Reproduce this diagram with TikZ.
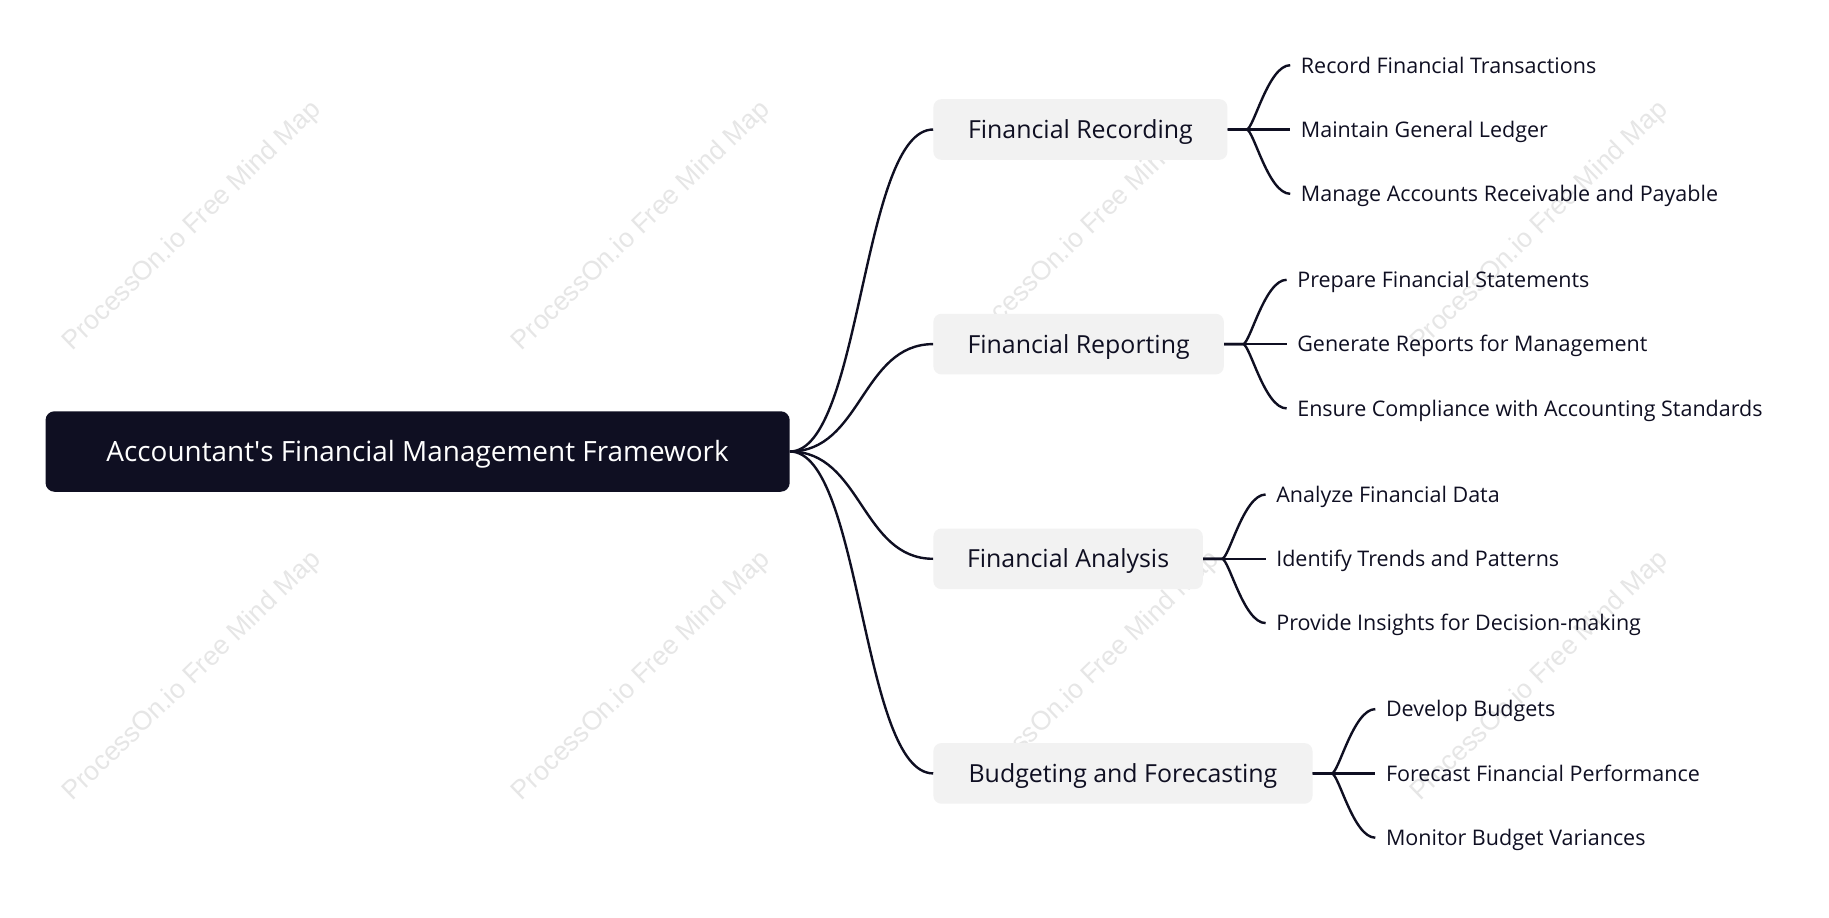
\documentclass[tikz,border=0pt]{standalone}
\usepackage{fontspec}
\setmainfont{Open Sans}
\newfontfamily\wmfont{Liberation Sans}
\definecolor{navy}{HTML}{0F0F22}
\definecolor{boxgray}{HTML}{F2F2F2}
\definecolor{wm}{HTML}{E6E6E6}
\begin{document}
\begin{tikzpicture}[x=1pt,y=-1pt,
  rootbox/.style={fill=navy, rounded corners=9pt, minimum height=80.5pt, minimum width=744.2pt, text=white, font=\fontsize{27.9}{33}\selectfont, inner sep=0pt, text height=20.6pt, text depth=0pt},
  catbox/.style={fill=boxgray, rounded corners=8pt, minimum height=60.6pt, text=navy, font=\fontsize{24.9}{29}\selectfont, inner sep=0pt, anchor=west, text height=18.2pt, text depth=0pt},
  leaf/.style={anchor=west, text=navy, font=\fontsize{21.5}{25}\selectfont, inner xsep=10.5pt, inner ysep=0pt, text height=15.6pt, text depth=0pt},
  link/.style={draw=navy, line width=2.4pt},
  wmark/.style={text=wm, rotate=44, font=\wmfont\fontsize{26.6}{32}\selectfont, inner sep=0pt}
]
\useasboundingbox (0,0) rectangle (1829,918);
\fill[white] (0,0) rectangle (1829,918);

% watermarks
\foreach \wx/\wy [count=\i] in {192.5/226.3, 641.6/226.3, 1090.7/226.3, 1539.8/226.3, 192.5/676.6, 641.6/676.6, 1090.7/676.6, 1539.8/676.6}
  \node[wmark] (wm\i) at (\wx,\wy) {ProcessOn.io Free Mind Map};

% root
\node[rootbox] (root) at (417.6,451.5) {Accountant\textquotesingle s Financial Management Framework};

% categories
\node[catbox, minimum width=294pt]   (c1) at (933.2,129.5) {Financial Recording};
\node[catbox, minimum width=290.4pt] (c2) at (933.2,344.1) {Financial Reporting};
\node[catbox, minimum width=269.4pt] (c3) at (933.2,558.8) {Financial Analysis};
\node[catbox, minimum width=379.1pt] (c4) at (933.2,773.4) {Budgeting and Forecasting};

% leaves
\node[leaf] (l11) at (1290.2,65.2)  {Record Financial Transactions};
\node[leaf] (l12) at (1290.2,129.5) {Maintain General Ledger};
\node[leaf] (l13) at (1290.2,193.8) {Manage Accounts Receivable and Payable};

\node[leaf] (l21) at (1286.6,279.8) {Prepare Financial Statements};
\node[leaf] (l22) at (1286.6,344.1) {Generate Reports for Management};
\node[leaf] (l23) at (1286.6,408.4) {Ensure Compliance with Accounting Standards};

\node[leaf] (l31) at (1265.6,494.5) {Analyze Financial Data};
\node[leaf] (l32) at (1265.6,558.8) {Identify Trends and Patterns};
\node[leaf] (l33) at (1265.6,623.1) {Provide Insights for Decision-making};

\node[leaf] (l41) at (1375.3,709.1) {Develop Budgets};
\node[leaf] (l42) at (1375.3,773.4) {Forecast Financial Performance};
\node[leaf] (l43) at (1375.3,837.7) {Monitor Budget Variances};

% root links
\foreach \c in {c1,c2,c3,c4}
  \draw[link] (root.east) .. controls +(71.7,0) and +(-71.7,0) .. (\c.west);

% leaf links
\foreach \c in {1,2,3,4}{
  \draw[link] (c\c.east) -- (l\c2.west);
  \draw[link] (c\c.east) -- ++(19,0) .. controls +(7,0) and +(-22,0) .. (l\c1.west);
  \draw[link] (c\c.east) -- ++(19,0) .. controls +(7,0) and +(-22,0) .. (l\c3.west);
}
\end{tikzpicture}
\end{document}
